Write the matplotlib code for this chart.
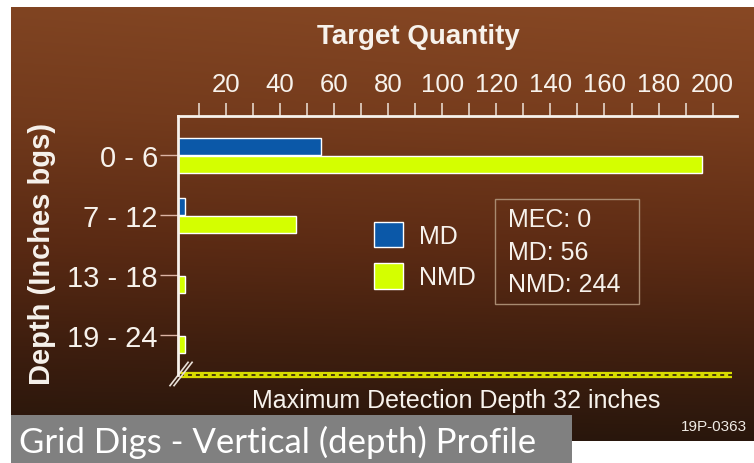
import numpy as np
import matplotlib
matplotlib.use("Agg")
import matplotlib.pyplot as plt
from matplotlib.patches import Rectangle
from matplotlib.lines import Line2D

plt.rcParams['font.family'] = ['Liberation Sans', 'DejaVu Sans']

# ---- data ----
depth_bins = ["0 - 6", "7 - 12", "13 - 18", "19 - 24"]
md_counts = [55, 5, 0, 0]
nmd_counts = [196, 46, 5, 5]
series_names = ["MD", "NMD"]
x_ticks_major = [20, 40, 60, 80, 100, 120, 140, 160, 180, 200]
x_ticks_minor = [10, 30, 50, 70, 90, 110, 130, 150, 170, 190]
stat_labels = ["MEC", "MD", "NMD"]
stat_values = [0, 56, 244]

W, H = 754, 464
fig = plt.figure(figsize=(W / 100, H / 100), dpi=100)
fig.patch.set_facecolor("white")

def fx(px):
    return px / W

def fy(py):
    return 1 - py / H

# ---- background gradient ----
bg = fig.add_axes([fx(11), fy(442), fx(754 - 11), (442 - 8) / H])
stops_y = np.array([0.0, 0.25, 0.55, 0.78, 1.0])
stops_c = np.array([[132, 70, 35], [118, 60, 29], [92, 43, 20], [64, 31, 15], [40, 22, 12]]) / 255
yy = np.linspace(0, 1, 300)
col = np.stack([np.interp(yy, stops_y, stops_c[:, k]) for k in range(3)], axis=1)
xx = np.linspace(0, 1, 200)
shade = 1 + 0.06 * (xx - 0.5)
img = col[:, None, :] * shade[None, :, None]
img = np.clip(img, 0, 1)
bg.imshow(img, aspect="auto", extent=[0, 1, 1, 0])
bg.set_xlim(0, 1); bg.set_ylim(1, 0)
bg.axis("off")

# ---- main axes ----
ax_left, ax_right, ax_top, ax_bot = 178, 737, 117, 376
ax = fig.add_axes([fx(ax_left), fy(ax_bot), (ax_right - ax_left) / W, (ax_bot - ax_top) / H])
ax.set_facecolor("none")

blue = "#0b58a8"
yellow = "#d4ff00"
h = 0.275
y = np.arange(len(depth_bins))
ax.barh(y - h / 2, md_counts, height=h, color=blue, edgecolor="white", linewidth=1.0, label=series_names[0])
ax.barh(y + h / 2 + 0.02, nmd_counts, height=h, color=yellow, edgecolor="white", linewidth=1.0, label=series_names[1])

ax.set_xlim(2.3, 209)
ax.set_ylim(3.667, -0.65)

ax.xaxis.tick_top()
ax.set_xticks(x_ticks_major)
ax.set_xticks(x_ticks_minor, minor=True)
ax.set_xticklabels([str(v) for v in x_ticks_major])
ax.tick_params(axis="x", which="both", top=True, bottom=False, length=9.5, width=1.1,
               color="#efe4da", labelsize=18.5, labelcolor="#f7f2ec", pad=5)
ax.set_yticks(y)
ax.set_yticklabels(depth_bins)
ax.tick_params(axis="y", length=13, width=1.0, color="#dcb4a4", labelsize=21,
               labelcolor="#f7f2ec", pad=1.5)

for s in ["right", "bottom"]:
    ax.spines[s].set_visible(False)
for s in ["top", "left"]:
    ax.spines[s].set_color("#f7f2ec")
    ax.spines[s].set_linewidth(2)

# max detection depth dashed line
ax.plot([0.004, 0.991], [0, 0], transform=ax.transAxes, color="#d8dc00", lw=4.5,
        clip_on=False, solid_capstyle="butt")
ax.plot([0.004, 0.991], [0, 0], transform=ax.transAxes, color="#3a2a08", lw=1.3,
        clip_on=False, dashes=(2.2, 2.2))

# axis break marks
for dx in [0.0, 0.0072]:
    ax.add_line(Line2D([-0.0143 + dx, 0.018 + dx], [-0.041, 0.049], transform=ax.transAxes,
                       color="#e8e0d8", lw=1.2, clip_on=False))

# legend
leg = ax.legend(loc="upper left", bbox_to_anchor=(fx(374), fy(222.7)), bbox_transform=fig.transFigure,
                frameon=False, fontsize=18, handlelength=1.16, handleheight=1.2,
                labelspacing=0.6, handletextpad=0.64, borderpad=0, borderaxespad=0)
for t in leg.get_texts():
    t.set_color("#f7f2ec")

# stats box
fig.add_artist(Rectangle((fx(495), fy(305)), (639 - 495) / W, (305 - 200) / H,
                         transform=fig.transFigure, fill=False, edgecolor="#a88a70", lw=1))
for lab, val, py in zip(stat_labels, stat_values, [220, 253, 285]):
    fig.text(fx(508), fy(py), f"{lab}: {val}", fontsize=18, color="#f7f2ec", ha="left", va="center")

# titles
fig.text(fx(418), fy(37), "Target Quantity", fontsize=20, fontweight="bold", color="#f7f2ec",
         ha="center", va="center")
fig.text(fx(42), fy(254), "Depth (Inches bgs)", fontsize=21, fontweight="bold", color="#f7f2ec",
         ha="center", va="center", rotation=90)
fig.text(fx(456), fy(401), "Maximum Detection Depth 32 inches", fontsize=18, color="#f7f2ec",
         ha="center", va="center")
fig.text(fx(747), fy(427), "19P-0363", fontsize=11, color="#f0ebe5", ha="right", va="center")

# bottom caption box
fig.add_artist(Rectangle((fx(11), 0), (572 - 11) / W, (464 - 416) / H, transform=fig.transFigure,
                         facecolor="#808080", edgecolor="none"))
fig.text(fx(19), fy(442), "Grid Digs - Vertical (depth) Profile", fontsize=25, color="white",
         ha="left", va="center", family=["Lato", "DejaVu Sans"])

fig.savefig("out.png", dpi=100)
